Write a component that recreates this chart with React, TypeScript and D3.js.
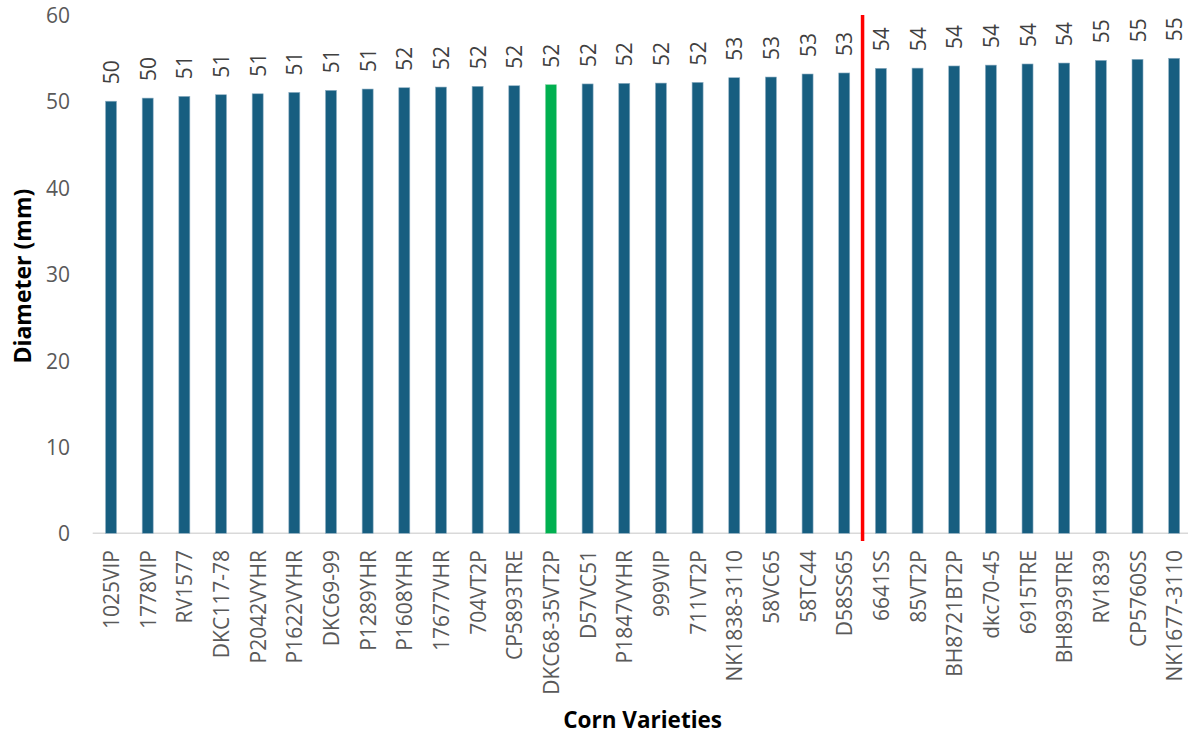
import React from "react";
import * as d3 from "d3";

const categories = [
  "1025VIP", "1778VIP", "RV1577", "DKC117-78", "P2042VYHR", "P1622VYHR", "DKC69-99",
  "P1289YHR", "P1608YHR", "17677VHR", "704VT2P", "CP5893TRE", "DKC68-35VT2P", "D57VC51",
  "P1847VYHR", "999VIP", "711VT2P", "NK1838-3110", "58VC65", "58TC44", "D58SS65",
  "6641SS", "85VT2P", "BH8721BT2P", "dkc70-45", "6915TRE", "BH8939TRE", "RV1839",
  "CP5760SS", "NK1677-3110",
];
const diameters = [
  50.02, 50.38, 50.58, 50.77, 50.88, 51.04, 51.28, 51.43, 51.58, 51.66, 51.74, 51.81,
  51.93, 52.02, 52.09, 52.12, 52.2, 52.74, 52.82, 53.17, 53.29, 53.83, 53.85, 54.1,
  54.2, 54.33, 54.44, 54.75, 54.87, 54.99,
];
const highlighted = ["DKC68-35VT2P"];
const dividerAfter = "D58SS65";
const yTicks = [0, 10, 20, 30, 40, 50, 60];

const W = 1188;
const H = 734;
const left = 92.7;
const right = 1192.5;
const top = 15;
const bottom = 533.3;

export default function App() {
  const x = d3.scaleBand<string>().domain(categories).range([left, right]).paddingInner(0).paddingOuter(0);
  const y = d3.scaleLinear().domain([0, 60]).range([bottom, top]);
  const barW = 11;
  const font = "'Open Sans', 'Noto Sans', sans-serif";
  const divIdx = categories.indexOf(dividerAfter);
  const divX = (x(categories[divIdx])! + x.bandwidth() + x(categories[divIdx + 1])!) / 2;

  return (
    <svg
      width={W}
      height={H}
      style={{ position: "absolute", left: 0, top: 0, background: "#fff" }}
      fontFamily={font}
    >
      {yTicks.map((t) => (
        <text
          key={t}
          x={70}
          y={y(t)}
          textAnchor="end"
          dominantBaseline="central"
          fontSize={21}
          fill="#595959"
        >
          {t}
        </text>
      ))}
      <line x1={left} x2={W} y1={bottom} y2={bottom} stroke="#d9d9d9" strokeWidth={1.5} />
      {categories.map((c, i) => {
        const cx = x(c)! + x.bandwidth() / 2;
        const v = diameters[i];
        const yt = y(v);
        const hl = highlighted.includes(c);
        return (
          <g key={c}>
            <rect
              x={cx - barW / 2}
              y={yt}
              width={barW}
              height={bottom - yt}
              fill={hl ? "#00B050" : "#175E80"}
              stroke={hl ? "#7fd3a2" : "#8fb0c4"}
              strokeWidth={0.6}
            />
            <text
              transform={`translate(${cx},${yt - 17}) rotate(-90)`}
              textAnchor="start"
              dominantBaseline="central"
              fontSize={21}
              fill="#404040"
            >
              {d3.format(".0f")(v)}
            </text>
            <text
              transform={`translate(${cx},${550}) rotate(-90)`}
              textAnchor="end"
              dominantBaseline="central"
              fontSize={21}
              fill="#595959"
            >
              {c}
            </text>
          </g>
        );
      })}
      <line x1={divX} x2={divX} y1={15} y2={541} stroke="#FF0000" strokeWidth={3.5} />
      <text
        transform={`translate(22,${(top + bottom) / 2 + 2}) rotate(-90)`}
        textAnchor="middle"
        dominantBaseline="central"
        fontSize={23}
        fontWeight="bold"
        fill="#000"
      >
        Diameter (mm)
      </text>
      <text
        x={(left + right) / 2}
        y={719}
        textAnchor="middle"
        dominantBaseline="central"
        fontSize={22.5}
        fontWeight="bold"
        fill="#000"
      >
        Corn Varieties
      </text>
    </svg>
  );
}
